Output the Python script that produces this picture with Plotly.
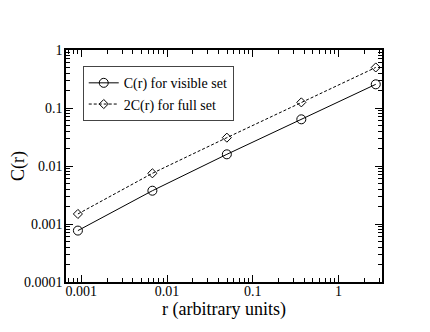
import plotly.graph_objects as go

r_vals = [0.000912, 0.00674, 0.0498, 0.368, 2.718]
c_visible = [0.00077, 0.00375, 0.0159, 0.0638, 0.256]
c2_full = [0.00149, 0.00748, 0.0308, 0.125, 0.50]

x_ticks = [0.001, 0.01, 0.1, 1]
x_labels = ["0.001", "0.01", "0.1", "1"]
y_ticks = [0.0001, 0.001, 0.01, 0.1, 1]
y_labels = ["0.0001", "0.001", "0.01", "0.1", "1"]

# minor tick positions 2..9 in each decade
x_minor = [m * 10.0 ** e for e in range(-4, 1) for m in range(2, 10)]
y_minor = [m * 10.0 ** e for e in range(-4, 0) for m in range(2, 10)]

font = "'Liberation Serif', 'DejaVu Serif'"

fig = go.Figure()
fig.add_trace(go.Scatter(
    x=r_vals, y=c_visible, mode="lines+markers", name="C(r) for visible set",
    line=dict(color="black", width=1),
    marker=dict(symbol="circle-open", size=9, color="black", line=dict(width=1)),
))
fig.add_trace(go.Scatter(
    x=r_vals, y=c2_full, mode="lines+markers", name="2C(r) for full set",
    line=dict(color="black", width=1, dash="3px,2px"),
    marker=dict(symbol="diamond-open", size=7, color="black", line=dict(width=1)),
))

axis_common = dict(
    type="log", showline=True, linecolor="black", linewidth=1.5, mirror="ticks",
    ticks="inside", ticklen=7, tickcolor="black", showgrid=False, zeroline=False,
    automargin=False,
    tickfont=dict(family=font, size=14, color="black"),
)

# page body has an 8px margin, so the figure is shifted by 8px
fig.update_layout(
    width=422, height=324,
    margin=dict(l=58, r=48, t=42, b=50),
    paper_bgcolor="white", plot_bgcolor="white",
    font=dict(family=font, color="black"),
    showlegend=True,
    legend=dict(
        x=0.053, y=0.93, xanchor="left", yanchor="top",
        bgcolor="white", bordercolor="#444", borderwidth=1,
        font=dict(family=font, size=14, color="black"),
        itemwidth=30, tracegroupgap=0,
    ),
)
fig.update_xaxes(
    **axis_common, range=[-3.179, 0.507],
    tickvals=x_ticks, ticktext=x_labels, ticklabelstandoff=-5,
    minor=dict(tickvals=x_minor, ticks="inside", ticklen=4, tickcolor="black", showgrid=False),
    title=dict(text="r (arbitrary units)", font=dict(family=font, size=18), standoff=0),
)
fig.update_yaxes(
    **axis_common, range=[-4, 0],
    tickvals=y_ticks, ticktext=y_labels, ticklabelstandoff=-1,
    minor=dict(tickvals=y_minor, ticks="inside", ticklen=4, tickcolor="black", showgrid=False),
    title=dict(text="C(r)", font=dict(family=font, size=18), standoff=6),
)

fig.write_html("out.html")
